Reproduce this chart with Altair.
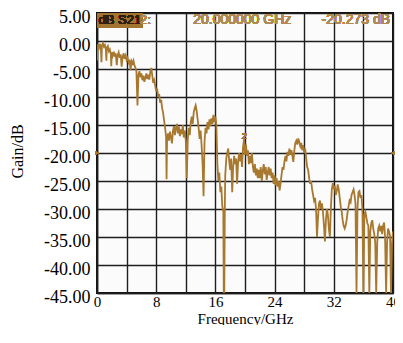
import altair as alt
import pandas as pd

freq_ghz = [0.0, 0.07, 0.13, 0.27, 0.4, 0.53, 0.6, 0.67, 0.8, 0.93, 1.07, 1.2, 1.27, 1.33, 1.47, 1.6, 1.73, 1.87, 1.93, 2.0,
            2.13, 2.27, 2.4, 2.53, 2.67, 2.8, 2.93, 3.07, 3.2, 3.33, 3.47, 3.6, 3.73, 3.87, 4.0, 4.13, 4.27, 4.4, 4.53, 4.67,
            4.8, 4.93, 5.07, 5.2, 5.33, 5.47, 5.6, 5.73, 5.87, 6.0, 6.13, 6.27, 6.4, 6.53, 6.67, 6.8, 6.93, 7.07, 7.2, 7.33,
            7.47, 7.6, 7.73, 7.87, 8.0, 8.13, 8.27, 8.4, 8.53, 8.67, 8.8, 8.93, 9.07, 9.2, 9.33, 9.4, 9.47, 9.6, 9.73, 9.87,
            10.0, 10.13, 10.27, 10.4, 10.53, 10.67, 10.8, 10.93, 11.07, 11.2, 11.33, 11.47, 11.6, 11.73, 11.87, 12.0, 12.13, 12.27, 12.4, 12.53,
            12.67, 12.8, 12.93, 13.07, 13.2, 13.33, 13.47, 13.6, 13.73, 13.87, 14.0, 14.13, 14.27, 14.4, 14.53, 14.67, 14.8, 14.93, 15.07, 15.2,
            15.33, 15.47, 15.6, 15.73, 15.87, 16.0, 16.13, 16.27, 16.4, 16.53, 16.67, 16.8, 16.93, 17.07, 17.13, 17.2, 17.27, 17.33, 17.47, 17.6,
            17.73, 17.87, 18.0, 18.13, 18.27, 18.4, 18.53, 18.67, 18.8, 18.93, 19.07, 19.2, 19.33, 19.47, 19.6, 19.73, 19.87, 20.0, 20.13, 20.27,
            20.4, 20.53, 20.67, 20.8, 20.93, 21.07, 21.2, 21.33, 21.47, 21.6, 21.73, 21.87, 22.0, 22.13, 22.27, 22.4, 22.53, 22.67, 22.8, 22.93,
            23.07, 23.2, 23.33, 23.47, 23.6, 23.73, 23.87, 24.0, 24.13, 24.27, 24.4, 24.53, 24.67, 24.8, 24.93, 25.07, 25.2, 25.33, 25.47, 25.6,
            25.73, 25.87, 26.0, 26.13, 26.27, 26.4, 26.53, 26.67, 26.8, 26.93, 27.07, 27.2, 27.33, 27.47, 27.6, 27.73, 27.87, 28.0, 28.13, 28.27,
            28.4, 28.53, 28.67, 28.8, 28.93, 29.07, 29.2, 29.33, 29.47, 29.6, 29.73, 29.87, 30.0, 30.13, 30.27, 30.4, 30.53, 30.67, 30.8, 30.93,
            31.07, 31.2, 31.33, 31.47, 31.6, 31.73, 31.87, 32.0, 32.13, 32.27, 32.4, 32.53, 32.67, 32.8, 32.93, 33.07, 33.2, 33.33, 33.47, 33.6,
            33.73, 33.87, 34.0, 34.13, 34.27, 34.4, 34.53, 34.67, 34.8, 34.93, 35.07, 35.2, 35.33, 35.47, 35.6, 35.73, 35.87, 36.0, 36.13, 36.27,
            36.4, 36.53, 36.67, 36.8, 36.93, 37.07, 37.2, 37.33, 37.47, 37.6, 37.73, 37.87, 38.0, 38.13, 38.27, 38.4, 38.53, 38.67, 38.8, 38.93,
            39.07, 39.2, 39.33, 39.47, 39.6, 39.73, 39.87, 40.0]

gain_db = [-3.5, -1.0, -0.6, -1.2, -0.5, -1.5, -3.8, -0.8, -0.4, -1.0, -0.7, -1.6, -3.5, -1.2, -0.9, -1.8, -1.5, -2.4, -4.5, -2.0,
           -2.6, -1.9, -2.8, -2.2, -4.3, -2.5, -2.0, -3.0, -2.4, -4.6, -2.8, -2.2, -3.2, -2.6, -3.4, -3.0, -3.8, -3.3, -5.2, -3.6,
           -4.0, -3.5, -4.4, -4.8, -5.5, -11.5, -6.0, -5.4, -6.5, -5.8, -7.0, -6.2, -7.3, -6.6, -5.8, -6.8, -6.0, -6.9, -5.5, -4.8,
           -6.2, -7.5, -7.0, -8.0, -9.0, -8.5, -10.0, -9.5, -11.0, -10.5, -12.0, -12.8, -14.2, -15.5, -17.0, -24.7, -17.5, -16.5, -17.8, -16.2,
           -17.2, -18.3, -16.0, -15.2, -16.8, -15.5, -14.8, -16.5, -15.3, -17.0, -15.8, -16.6, -15.0, -17.2, -16.0, -17.8, -24.5, -17.5, -15.5, -16.8,
           -14.5, -13.5, -14.8, -12.8, -12.0, -11.5, -12.5, -14.0, -15.5, -17.5, -16.0, -18.5, -22.0, -27.7, -18.0, -15.5, -16.5, -14.5, -15.8, -14.0,
           -15.2, -13.8, -14.8, -13.2, -14.5, -13.5, -15.0, -22.0, -25.0, -23.5, -27.0, -26.0, -29.5, -30.5, -45.0, -45.0, -30.0, -24.0, -21.0, -20.0,
           -19.2, -21.5, -23.0, -21.0, -27.0, -22.5, -20.5, -22.0, -21.0, -25.5, -21.5, -20.0, -21.5, -20.2, -22.5, -19.0, -17.5, -20.3, -18.5, -20.5,
           -19.5, -22.0, -20.5, -21.8, -20.0, -22.5, -23.5, -22.0, -24.0, -22.8, -24.5, -23.0, -24.5, -22.5, -25.0, -23.2, -22.0, -23.8, -22.5, -24.8,
           -23.5, -22.5, -24.0, -22.8, -24.5, -23.5, -25.5, -24.0, -25.8, -24.5, -26.0, -25.0, -26.7, -25.5, -24.0, -22.5, -23.0, -21.5, -20.5, -21.5,
           -19.8, -20.5, -19.2, -20.3, -19.5, -20.5, -21.6, -19.5, -18.2, -17.8, -18.5, -17.4, -18.0, -18.8, -18.2, -19.5, -18.6, -20.0, -19.2, -21.0,
           -22.5, -23.0, -24.5, -25.5, -25.0, -26.5, -27.5, -28.5, -28.0, -30.0, -35.0, -31.5, -29.0, -28.5, -30.0, -29.0, -30.5, -33.0, -35.8, -32.0,
           -30.0, -31.0, -33.5, -35.0, -30.0, -26.5, -25.4, -26.5, -25.8, -27.5, -26.8, -25.6, -26.5, -28.0, -29.5, -30.5, -32.0, -33.0, -33.5, -33.0,
           -32.0, -30.5, -29.5, -28.5, -28.8, -27.5, -27.0, -26.5, -27.5, -29.0, -45.0, -30.0, -27.0, -26.8, -28.0, -27.5, -30.0, -45.0, -31.0, -30.5,
           -31.5, -32.5, -33.0, -45.0, -34.0, -32.5, -32.0, -33.5, -34.5, -36.0, -45.0, -36.0, -33.5, -33.0, -34.0, -33.0, -34.5, -33.0, -32.4, -35.0,
           -45.0, -36.0, -33.5, -34.0, -34.8, -45.0, -36.0, -34.0]

x_ticks = [0, 4, 8, 12, 16, 20, 24, 28, 32, 36, 40]
y_ticks = [5, 0, -5, -10, -15, -20, -25, -30, -35, -40, -45]

trace_label = "dB S21"
marker_no = "2:"
marker_freq = "20.000000 GHz"
marker_val = "-20.273 dB"

df = pd.DataFrame({"f": freq_ghz, "g": gain_db})

TRACE = "#a8782f"
TXT = "#b08a55"
SERIF = "Liberation Serif"
SANS = "Liberation Sans"

xs = alt.Scale(domain=[0, 40], nice=False, zero=False)
ys = alt.Scale(domain=[-45, 5], nice=False, zero=False)

x_axis = alt.Axis(values=x_ticks, labelExpr="datum.value % 8 == 0 ? datum.label : ''",
                  grid=True, gridColor="#1e1e1e", gridWidth=1.4, gridOpacity=1,
                  domain=True, domainColor="#1e1e1e", domainWidth=1.6, ticks=False,
                  labelFont=SERIF, labelFontSize=15, labelColor="#000", labelPadding=1,
                  labelFlush=False, labelOverlap=False, labelBound=False,
                  title="Frequency/GHz", titleFont=SERIF, titleFontSize=15, titleFontWeight="normal",
                  titleColor="#000", titleY=25, titleBaseline="middle")
y_axis = alt.Axis(values=y_ticks,
                  labelExpr="(datum.value < 0 ? '-' : '') + format(abs(datum.value), '.2f')",
                  grid=True, gridColor="#1e1e1e", gridWidth=1.4, gridOpacity=1,
                  domain=True, domainColor="#1e1e1e", domainWidth=1.6, ticks=False,
                  labelFont=SERIF, labelFontSize=18, labelColor="#000", labelPadding=7,
                  labelFlush=False, labelOverlap=False, labelBound=False, labelOffset=4,
                  title="Gain/dB", titleFont=SERIF, titleFontSize=16, titleFontWeight="normal",
                  titleColor="#000", titleX=-80, titleY=138, titleBaseline="middle", titleAlign="center",
                  titleAngle=270)

line = alt.Chart(df).mark_line(color=TRACE, strokeWidth=1.8, clip=True).encode(
    x=alt.X("f:Q", scale=xs, axis=x_axis),
    y=alt.Y("g:Q", scale=ys, axis=y_axis),
    order="f:Q",
)


def ann_x(v):
    return alt.datum(v, scale=xs, axis=x_axis)


def ann_y(v):
    return alt.datum(v, scale=ys, axis=y_axis)


box = alt.Chart(df).mark_rect(color="#a3742f").encode(
    x=ann_x(0), x2=alt.datum(6.1), y=ann_y(5), y2=alt.datum(2.4)
)

t1 = alt.Chart(df).mark_text(text=trace_label, font=SANS, fontSize=13, color="#2e2010",
                              align="left", baseline="middle").encode(x=ann_x(0.2), y=ann_y(3.7))
t2 = alt.Chart(df).mark_text(text=marker_no, font=SANS, fontSize=13, color=TXT,
                              align="left", baseline="middle").encode(x=ann_x(5.8), y=ann_y(3.7))
t3 = alt.Chart(df).mark_text(text=marker_freq, font=SANS, fontSize=14, color=TXT,
                              align="left", baseline="middle").encode(x=ann_x(13.0), y=ann_y(3.7))
t4 = alt.Chart(df).mark_text(text=marker_val, font=SANS, fontSize=14, color=TXT,
                              align="right", baseline="middle").encode(x=ann_x(39.6), y=ann_y(3.7))
mk = alt.Chart(df).mark_text(text="2", font=SANS, fontSize=9, color=TRACE,
                              align="center", baseline="middle").encode(x=ann_x(19.9), y=ann_y(-17.0))
refl = alt.Chart(df).mark_point(shape="triangle-right", filled=True, size=18, color=TRACE).encode(
    x=ann_x(0), y=ann_y(-20))
refr = alt.Chart(df).mark_point(shape="triangle-left", filled=True, size=18, color=TRACE).encode(
    x=ann_x(40), y=ann_y(-20))

chart = alt.layer(line, box, t1, t2, t3, t4, mk, refl, refr).properties(
    width=296, height=280,
    autosize=alt.AutoSizeParams(type="none"),
    padding={"left": 89, "top": 5, "right": 2, "bottom": 32},
    background="#ffffff",
).configure_view(stroke="#111", strokeWidth=2, fill="#fbfbfb").configure_axis(labelOverlap=False)

chart.save("out.html", embed_options={"renderer": "svg", "actions": False})
